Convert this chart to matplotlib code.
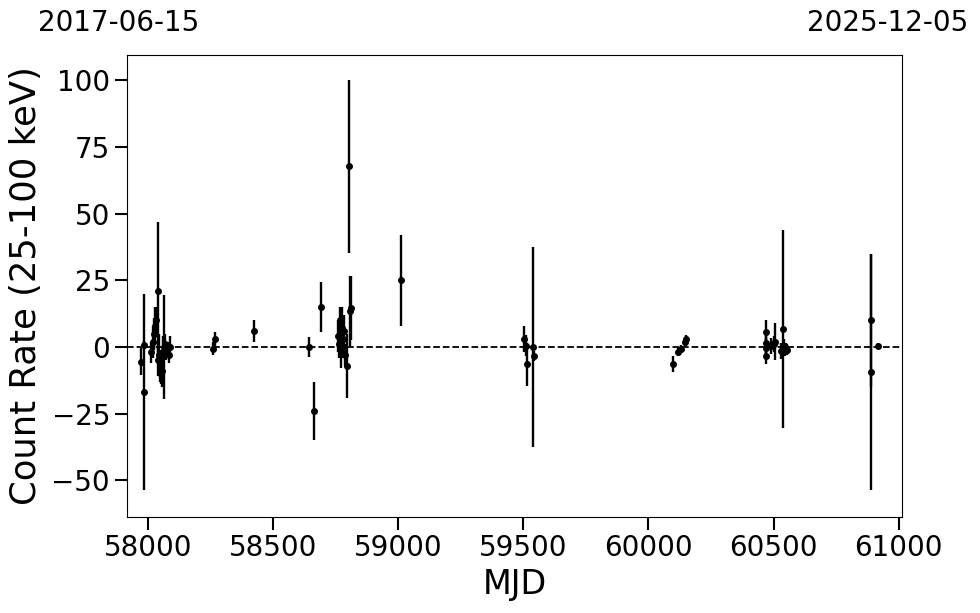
import matplotlib
matplotlib.use("Agg")
import matplotlib.pyplot as plt
import numpy as np

# MJD, count rate (25-100 keV), 1-sigma error
mjd = [57972, 57985, 57986, 58015, 58020, 58025, 58030, 58035, 58040, 58043,
       58045, 58048, 58052, 58055, 58058, 58062, 58065, 58070, 58075, 58080,
       58085, 58090,
       58262, 58270, 58425,
       58644, 58664, 58692, 58760, 58765, 58770, 58773, 58776, 58780, 58785,
       58790, 58795, 58805, 58808, 58812, 59012,
       59505, 59510, 59515, 59541, 59542,
       60100, 60118, 60130, 60145, 60150,
       60468, 60469, 60470, 60471, 60490, 60500, 60505, 60530, 60537, 60540,
       60545, 60550, 60555,
       60890, 60891, 60917]
rate = [-5.5, 0.7, -17.0, -2.0, 2.0, 5.0, 8.0, 10.0, -5.0, 21.0,
        -3.0, -8.0, -10.0, -6.0, -9.0, -2.0, 0.0, 1.0, -2.0, 0.0,
        -3.0, 0.0,
        -0.7, 3.0, 6.0,
        0.0, -24.0, 15.0, 4.0, 1.0, 10.0, -2.0, 7.0, 3.0, 6.0,
        -3.0, -7.0, 67.7, 13.5, 14.5, 25.0,
        3.0, 0.5, -6.5, 0.1, -3.4,
        -6.4, -2.0, -0.9, 2.0, 2.9,
        5.4, 1.4, -0.5, -3.6, 0.5, 1.0, 2.0, -1.5, 6.8, 0.0,
        -1.5, -0.5, -1.0,
        10.0, -9.3, 0.5]
err = [5.0, 1.5, 36.8, 4.0, 6.0, 6.0, 7.0, 5.0, 6.0, 25.8,
       8.0, 5.0, 4.0, 5.0, 6.0, 6.0, 19.6, 4.0, 3.0, 2.0,
       3.0, 4.0,
       2.5, 2.5, 4.0,
       3.7, 11.0, 9.5, 6.0, 5.0, 5.0, 6.0, 8.0, 7.0, 6.0,
       4.0, 12.0, 32.5, 13.0, 12.0, 17.0,
       5.0, 4.0, 8.0, 37.5, 2.0,
       3.0, 1.5, 1.5, 1.5, 1.5,
       4.5, 4.0, 4.0, 3.0, 3.0, 3.0, 7.0, 3.0, 37.2, 3.0,
       2.0, 2.0, 2.0,
       25.0, 44.3, 1.0]

xlim = (57919, 61014)
xticks = [58000, 58500, 59000, 59500, 60000, 60500, 61000]
yticks = [-50, -25, 0, 25, 50, 75, 100]
start_label = "2017-06-15"
end_label = "2025-12-05"

fig = plt.figure(figsize=(9.8, 6.13), dpi=100)
ax = fig.add_axes([0.130, 0.157, 0.7907, 0.753])

ax.errorbar(mjd, rate, yerr=err, fmt='o', color='black', ecolor='black',
            markersize=4, elinewidth=1.7, capsize=0, zorder=3)
ax.axhline(0, color='black', linestyle='--', linewidth=1.3, zorder=2)

ax.set_xlim(*xlim)
ax.set_ylim(-63.7, 109.4)
ax.set_xticks(xticks)
ax.set_yticks(yticks)
ax.tick_params(axis='both', which='major', labelsize=20, length=9, width=1.5)
ax.set_xlabel("MJD", fontsize=24)
ax.set_ylabel("Count Rate (25-100 keV)", fontsize=25.5, labelpad=6)

fig.text(0.039, 0.962, start_label, fontsize=20, ha='left', va='center')
fig.text(0.988, 0.962, end_label, fontsize=20, ha='right', va='center')

fig.savefig("out.png", dpi=100)
